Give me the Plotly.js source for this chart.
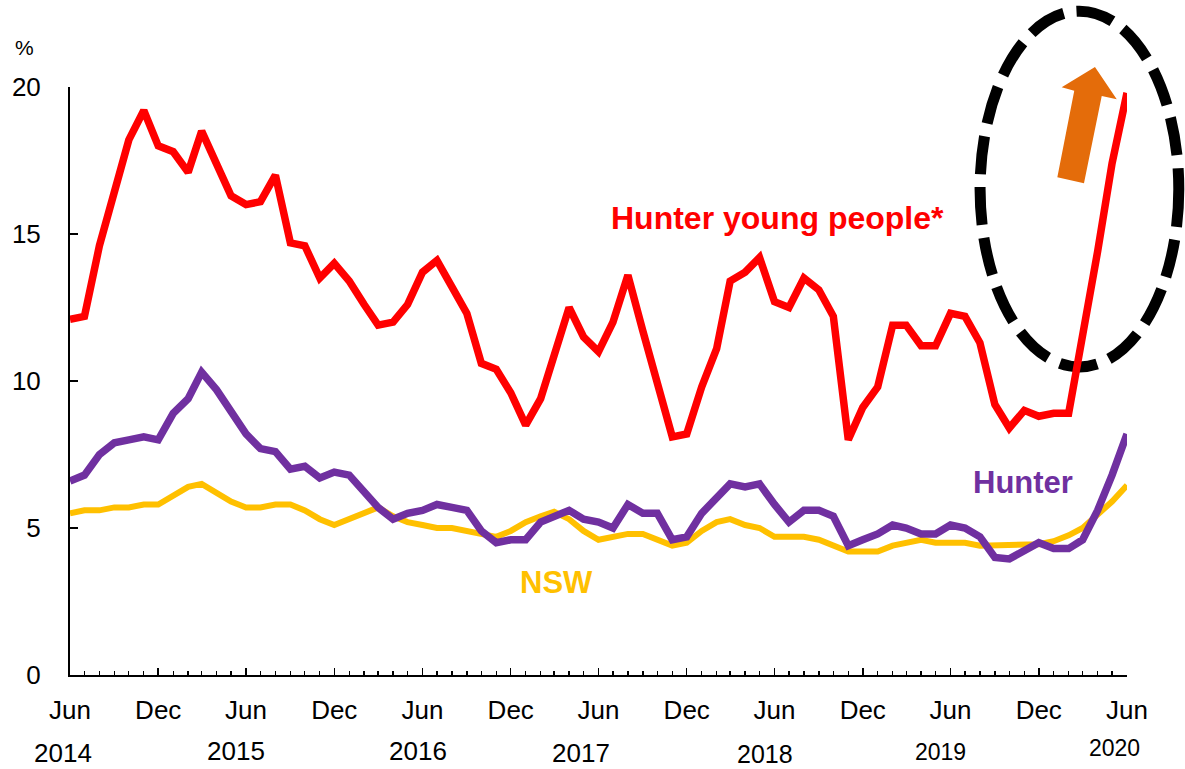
<!DOCTYPE html>
<html>
<head>
<meta charset="utf-8">
<script src="https://cdn.plot.ly/plotly-3.0.1.min.js"></script>
<style>html,body{margin:0;padding:0;background:#fff}#chart{width:1185px;height:769px}</style>
</head>
<body>
<div id="chart"></div>
<script>
// Monthly series, Jun 2014 .. Jun 2020 (73 months)
const startYear = 2014, startMonth = 6, monthCount = 73;
const months = [];
for (let k = 0; k < monthCount; k++) {
  const m = startMonth - 1 + k;
  const y = startYear + Math.floor(m / 12);
  const mm = (m % 12) + 1;
  months.push(y + '-' + String(mm).padStart(2, '0') + '-01');
}

const hunterYoung = [12.1,12.2,14.6,16.5,18.2,19.2,18.0,17.8,17.1,18.5,17.4,16.3,16.0,16.1,17.0,14.7,14.6,13.5,14.0,13.4,
  12.6,11.9,12.0,12.6,13.7,14.1,13.2,12.3,10.6,10.4,9.6,8.5,9.4,10.9,12.5,11.5,11.0,12.0,13.6,11.7,
  9.9,8.1,8.2,9.8,11.1,13.4,13.7,14.2,12.7,12.5,13.5,13.1,12.2,8.0,9.1,9.8,11.9,11.9,11.2,11.2,
  12.3,12.2,11.3,9.2,8.4,9.0,8.8,8.9,8.9,11.5,14.4,17.4,19.8];
const hunter = [6.6,6.8,7.5,7.9,8.0,8.1,8.0,8.9,9.4,10.3,9.7,9.0,8.2,7.7,7.6,7.0,7.1,6.7,6.9,6.8,
  6.2,5.7,5.3,5.5,5.6,5.8,5.7,5.6,4.9,4.5,4.6,4.6,5.2,5.4,5.6,5.3,5.2,5.0,5.8,5.5,
  5.5,4.6,4.7,5.5,6.0,6.5,6.4,6.5,5.8,5.2,5.6,5.6,5.4,4.4,4.6,4.8,5.1,5.0,4.8,4.8,
  5.1,5.0,4.7,4.0,3.95,4.2,4.5,4.3,4.3,4.6,5.6,6.8,8.2];
const nsw = [5.5,5.6,5.6,5.7,5.7,5.8,5.8,6.1,6.4,6.5,6.2,5.9,5.7,5.7,5.8,5.8,5.6,5.3,5.1,5.3,
  5.5,5.7,5.4,5.2,5.1,5.0,5.0,4.9,4.8,4.7,4.9,5.2,5.4,5.55,5.3,4.9,4.6,4.7,4.8,4.8,
  4.6,4.4,4.5,4.9,5.2,5.3,5.1,5.0,4.7,4.7,4.7,4.6,4.4,4.2,4.2,4.2,4.4,4.5,4.6,4.5,
  4.5,4.5,4.4,4.4,4.45,4.45,4.45,4.55,4.75,5.0,5.45,5.9,6.45];

const yearLabels = ['2014','2015','2016','2017','2018','2019','2020'];
const yearDates = ['2014-06-01','2015-06-01','2016-06-01','2017-06-01','2018-06-01','2019-06-01','2020-06-01'];
const yearShift = [-7,-10,-4,-18,-10,-10,-13];
const yearY = [-0.132,-0.13,-0.13,-0.133,-0.134,-0.131,-0.124];
const yearSize = [26,26,26,26,25,23,23];

const FONT = 'Liberation Sans, Arial, sans-serif';
const RED = '#FF0000', PURPLE = '#7030A0', YELLOW = '#FFC000', ORANGE = '#E46C0A';

const traces = [
  {x: months, y: nsw, type: 'scatter', mode: 'lines', line: {color: YELLOW, width: 6}, hoverinfo: 'skip'},
  {x: months, y: hunter, type: 'scatter', mode: 'lines', line: {color: PURPLE, width: 7.5}, hoverinfo: 'skip'},
  {x: months, y: hunterYoung, type: 'scatter', mode: 'lines', line: {color: RED, width: 7.5}, hoverinfo: 'skip'}
];

const annotations = [
  {text: '%', xref: 'paper', yref: 'paper', x: -0.0435, y: 1.068, xanchor: 'center', yanchor: 'middle', showarrow: false, font: {family: FONT, size: 21, color: '#000'}},
  {text: '<b>Hunter young people*</b>', xref: 'paper', yref: 'paper', x: 0.669, y: 0.777, xanchor: 'center', yanchor: 'middle', showarrow: false, font: {family: FONT, size: 32, color: RED}},
  {text: '<b>Hunter</b>', xref: 'paper', yref: 'paper', x: 0.902, y: 0.327, xanchor: 'center', yanchor: 'middle', showarrow: false, font: {family: FONT, size: 31, color: PURPLE}},
  {text: '<b>NSW</b>', xref: 'paper', yref: 'paper', x: 0.46, y: 0.1565, xanchor: 'center', yanchor: 'middle', showarrow: false, font: {family: FONT, size: 31, color: YELLOW}}
];
yearLabels.forEach((t, i) => annotations.push({
  text: t, xref: 'x', yref: 'paper', x: yearDates[i], y: yearY[i], xshift: yearShift[i],
  showarrow: false, xanchor: 'center', yanchor: 'middle', font: {family: FONT, size: yearSize[i], color: '#000'}
}));

const shapes = [
  {type: 'circle', xref: 'paper', yref: 'paper', x0: 0.861, x1: 1.049, y0: 0.524, y1: 1.129,
   line: {color: '#000', width: 11, dash: '38px,13px'}, layer: 'below'},
  {type: 'path', xref: 'paper', yref: 'paper', layer: 'above',
   path: 'M 0.9697 1.0340 L 0.9903 0.9791 L 0.9761 0.9847 L 0.9593 0.8362 L 0.9341 0.8464 L 0.9501 0.9937 L 0.9382 0.9995 Z',
   fillcolor: ORANGE, line: {width: 0}}
];

const layout = {
  width: 1185, height: 769,
  margin: {l: 70, r: 58, t: 87, b: 94},
  paper_bgcolor: '#fff', plot_bgcolor: '#fff',
  showlegend: false,
  font: {family: FONT, size: 26, color: '#000'},
  xaxis: {
    type: 'date', range: ['2014-06-01', '2020-06-01'],
    tick0: '2014-06-01', dtick: 'M6', tickformat: '%b',
    ticks: 'inside', ticklen: 7, tickwidth: 1.5, tickcolor: '#000',
    minor: {dtick: 'M1', tick0: '2014-06-01', ticks: 'inside', ticklen: 4, tickwidth: 1.3, tickcolor: '#000', showgrid: false},
    showline: true, linecolor: '#000', linewidth: 2,
    showgrid: false, zeroline: false,
    tickfont: {family: FONT, size: 26, color: '#000'},
    ticklabelstandoff: 11
  },
  yaxis: {
    range: [0, 20], tickvals: [0, 5, 10, 15, 20], ticktext: ['0','5','10','15','20'],
    ticks: 'inside', ticklen: 8, tickwidth: 1.5, tickcolor: '#000',
    showline: true, linecolor: '#000', linewidth: 2,
    showgrid: false, zeroline: false,
    tickfont: {family: FONT, size: 26, color: '#000'},
    ticklabelstandoff: 22
  },
  annotations: annotations,
  shapes: shapes
};

Plotly.newPlot('chart', traces, layout, {staticPlot: true, displayModeBar: false});
</script>
</body>
</html>
